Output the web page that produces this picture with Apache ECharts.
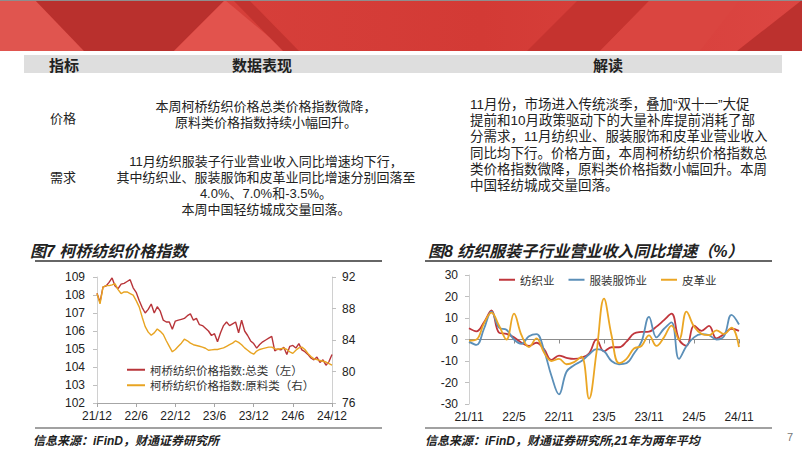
<!DOCTYPE html>
<html>
<head>
<meta charset="utf-8">
<script src="https://cdn.jsdelivr.net/npm/echarts@6/dist/echarts.min.js"></script>
<style>
  html, body { margin: 0; padding: 0; background: #fff; }
  #main { width: 802px; height: 451px; }
</style>
</head>
<body>
<div id="main"></div>
<script>
// 图7 柯桥纺织价格指数（双周取点）
var priceTicks = ['21/12', '22/6', '22/12', '23/6', '23/12', '24/6', '24/12'];
var totalIdx = [
  108.1, 107.6, 108.45, 108.5, 108.7, 108.95, 108.5, 108.35, 108.6, 108.65,
  108.75, 108.85, 108.4, 108.15, 107.7, 107.3, 107.0, 107.2, 107.5, 107.0,
  107.35, 107.1, 106.6, 106.5, 106.5, 106.1, 106.55, 106.6, 106.65, 106.7,
  106.85, 106.95, 106.6, 106.7, 106.35, 106.3, 106.15, 106.0, 105.75, 105.85,
  105.4, 105.9, 106.3, 106.5, 106.3, 106.4, 106.5, 105.9, 106.6, 106.0,
  105.75, 105.45, 105.3, 105.05, 105.25, 105.4, 105.5, 105.6, 105.7, 104.9,
  105.0, 104.95, 105.1, 104.7, 105.15, 105.2, 105.05, 105.3, 104.95, 104.85,
  104.7, 104.5, 104.4, 104.55, 104.25, 104.4, 104.1, 104.3, 104.7
];
var rawIdx = [
  89.9, 88.6, 90.7, 90.9, 90.9, 91.0, 91.15, 90.4, 89.9, 90.1,
  90.1, 89.9, 89.7, 89.0, 88.2, 86.9, 85.7, 85.0, 84.6, 84.9,
  85.4, 85.1, 84.7, 83.9, 83.2, 82.5, 82.8, 83.2, 83.6, 84.1,
  83.9, 83.6, 83.4, 83.3, 83.2, 83.1, 82.95, 82.7, 82.75, 82.8,
  82.8, 82.9, 83.0, 83.2, 83.4, 83.6, 83.9, 83.7, 83.4, 83.0,
  82.7, 82.4, 82.2, 82.6, 82.8, 82.9, 83.0, 83.1, 83.1, 82.9,
  82.8, 82.9, 82.95, 82.8, 82.5, 82.3, 82.7, 83.0, 83.1, 82.8,
  82.3, 81.9, 81.6, 81.5, 81.4, 81.3, 81.2, 81.0, 80.8
];
// 双周日期（类目）
var priceDates = [];
for (var j = 0; j < totalIdx.length; j++) {
  var d = new Date(2021, 11, 3 + 14 * j);
  priceDates.push(d.getFullYear() + '-' + (d.getMonth() + 1) + '-' + d.getDate());
}

// 图8 纺织服装子行业营业收入同比增速（%）
var revMonths = [
  '21/11', '21/12', '22/1', '22/2', '22/3', '22/4', '22/5', '22/6', '22/7', '22/8', '22/9', '22/10',
  '22/11', '22/12', '23/1', '23/2', '23/3', '23/4', '23/5', '23/6', '23/7', '23/8', '23/9', '23/10',
  '23/11', '23/12', '24/1', '24/2', '24/3', '24/4', '24/5', '24/6', '24/7', '24/8', '24/9', '24/10',
  '24/11'
];
var textile = [5.2, 3.8, 8, 13.5, 3.2, 2.6, 1, -1.5, -3, -1.5, -4.5, -9.5, -7.5, -8.5, -9, -8.5, -6.5, 0, -5.5, -3.6, -3.6, -1, 2.8, 3.5, 3.7, 6, 9, 12, 0, -3, 6.5, 4, 6.3, 0.5, 2.5, 5, 4.0];
var apparel = [-1, -2.5, 5, 13, 5.5, 4.5, 0, -2, 1.5, 2.5, -5, -17, -25.5, -15, -12, -10, -7, -4.5, -5.5, -10, -11.5, -11, -6.5, -1, 10.5, 1, 5, 8, -9, -3, 1, 2.5, 2, 0, 1.5, 11.5, 7.0];
var leather = [-0.5, 0, 7.5, 12.5, 6.5, 0, 12, 2, -3.5, 0.5, -6, -10, -9, -11.5, -10.5, -8, -27.5, -6, 19, 2, -11, -9, -4.2, -3, 1.9, -3, 1, 6.5, 0, 13, 6, 2.6, 2, 4.2, 2.6, 5.5, -3.5];

var CJK = '"Noto Sans CJK SC"';
var MIX = '"Liberation Sans", "Noto Sans CJK SC"';

function txt(x, y, s, font, align, color) {
  return {
    type: 'text', silent: true,
    style: {
      text: s, x: x, y: y, font: font, fill: color || '#222',
      textAlign: align || 'left', textVerticalAlign: 'middle'
    }
  };
}
function poly(points, fill) {
  return { type: 'polygon', silent: true, shape: { points: points }, style: { fill: fill } };
}
function line(x1, y1, x2, y2, color, w) {
  return { type: 'line', silent: true, shape: { x1: x1, y1: y1, x2: x2, y2: y2 }, style: { stroke: color, lineWidth: w } };
}

var graphics = [
  // 顶部红色横幅
  { type: 'rect', silent: true, shape: { x: 0, y: 0, width: 802, height: 51 },
    style: { fill: new echarts.graphic.LinearGradient(0, 0, 1, 0, [
      { offset: 0, color: '#D9443F' }, { offset: 0.6, color: '#D33A35' }, { offset: 1, color: '#DC4642' }]) } },
  poly([[0, 0], [35, 0], [84, 51], [0, 51]], '#E0554F'),
  poly([[35, 0], [225, 0], [174, 51], [84, 51]], '#B9302D'),
  poly([[174, 51], [225, 0], [286, 51]], '#E2534D'),
  poly([[233, 0], [249, 0], [299, 51], [283, 51]], '#C2332F'),
  poly([[527, 51], [578, 0], [650, 0], [600, 51]], '#C5332F'),
  poly([[600, 51], [650, 0], [740, 0], [700, 51]], '#DA4540'),
  poly([[737, 51], [802, 0], [802, 51]], '#BC312E'),
  line(0, 0.5, 802, 0.5, '#8E8E8E', 1),

  // 表头
  { type: 'rect', silent: true, shape: { x: 24, y: 55, width: 758, height: 18 }, style: { fill: '#DEDEDE' } },
  txt(64, 64, '指标', 'bold 15px ' + CJK, 'center'),
  txt(262, 64, '数据表现', 'bold 15px ' + CJK, 'center'),
  txt(608, 64, '解读', 'bold 15px ' + CJK, 'center'),

  // 指标列
  txt(63, 117, '价格', '13px ' + CJK, 'center'),
  txt(63, 176, '需求', '13px ' + CJK, 'center'),

  // 数据表现列
  txt(266, 106, '本周柯桥纺织价格总类价格指数微降，', '13px ' + MIX, 'center'),
  txt(266, 122, '原料类价格指数持续小幅回升。', '13px ' + MIX, 'center'),
  txt(266, 161, '11月纺织服装子行业营业收入同比增速均下行，', '13px ' + MIX, 'center'),
  txt(266, 177, '其中纺织业、服装服饰和皮革业同比增速分别回落至', '13px ' + MIX, 'center'),
  txt(266, 193, '4.0%、7.0%和-3.5%。', '13px ' + MIX, 'center'),
  txt(266, 209, '本周中国轻纺城成交量回落。', '13px ' + MIX, 'center'),

  // 解读列
  txt(470, 104, '11月份，市场进入传统淡季，叠加“双十一”大促', '13.5px ' + MIX),
  txt(470, 120, '提前和10月政策驱动下的大量补库提前消耗了部', '13.5px ' + MIX),
  txt(470, 136, '分需求，11月纺织业、服装服饰和皮革业营业收入', '13.5px ' + MIX),
  txt(470, 153, '同比均下行。价格方面，本周柯桥纺织价格指数总', '13.5px ' + MIX),
  txt(470, 169, '类价格指数微降，原料类价格指数小幅回升。本周', '13.5px ' + MIX),
  txt(470, 185, '中国轻纺城成交量回落。', '13.5px ' + MIX),

  // 图标题与分隔线
  txt(30, 251, '图7 柯桥纺织价格指数', 'italic bold 16px ' + MIX),
  line(35, 261, 382, 261, '#333', 1.5),
  txt(428, 251, '图8 纺织服装子行业营业收入同比增速（%）', 'italic bold 16px ' + MIX),
  line(425, 261, 772, 261, '#333', 1.5),
  line(35, 428, 382, 428, '#444', 1.2),
  line(425, 428, 772, 428, '#444', 1.2),
  txt(33, 441, '信息来源：iFinD，财通证券研究所', 'italic bold 12px ' + MIX),
  txt(425, 441, '信息来源：iFinD，财通证券研究所,21年为两年平均', 'italic bold 12px ' + MIX),
  txt(790, 437, '7', '11px "Liberation Sans"', 'center', '#777')
];

var axisFont = { color: '#222', fontSize: 12, fontFamily: 'Liberation Sans' };
var lightAxis = { show: true, lineStyle: { color: '#D0D0D0' } };
var grayTick = { show: true, length: 4, lineStyle: { color: '#BFBFBF' } };

var chart = echarts.init(document.getElementById('main'), null, { renderer: 'svg' });
chart.setOption({
  animation: false,
  backgroundColor: '#fff',
  graphic: graphics,
  grid: [
    { left: 97, right: 470, top: 277, bottom: 48 },
    { left: 469, right: 63, top: 275, bottom: 47 }
  ],
  legend: [
    {
      data: ['柯桥纺织价格指数:总类（左）', '柯桥纺织价格指数:原料类（右）'],
      orient: 'vertical', left: 122, top: 359, itemGap: 4, itemWidth: 18, itemHeight: 2, icon: 'rect',
      textStyle: { color: '#333', fontSize: 11.5, fontFamily: CJK }
    },
    {
      data: ['纺织业', '服装服饰业', '皮革业'],
      orient: 'horizontal', left: 494, top: 269, itemGap: 14, itemWidth: 16, itemHeight: 2, icon: 'rect',
      textStyle: { color: '#333', fontSize: 11.5, fontFamily: CJK }
    }
  ],
  xAxis: [
    {
      gridIndex: 0, type: 'category', data: priceDates, boundaryGap: false,
      axisLine: { lineStyle: { color: '#A6A6A6' } },
      axisTick: { interval: 12, length: 4, lineStyle: { color: '#A6A6A6' } },
      axisLabel: Object.assign({ interval: 12, margin: 7, formatter: function (v, i) { return priceTicks[i / 13]; } }, axisFont),
      splitLine: { show: false }
    },
    {
      gridIndex: 1, type: 'category', data: revMonths, boundaryGap: false, position: 'bottom',
      axisLine: { show: false, onZero: false }, axisTick: { show: false },
      axisLabel: Object.assign({ interval: 5, margin: 7 }, axisFont),
      splitLine: { show: false }
    },
    {
      gridIndex: 1, type: 'category', data: revMonths, boundaryGap: false, position: 'bottom',
      axisLine: { onZero: true, lineStyle: { color: '#8C8C8C' } },
      axisTick: { interval: 5, length: 4, lineStyle: { color: '#8C8C8C' } },
      axisLabel: { show: false }, splitLine: { show: false }
    }
  ],
  yAxis: [
    {
      gridIndex: 0, type: 'value', position: 'left', min: 102, max: 109, interval: 1,
      axisLine: lightAxis, axisTick: grayTick, splitLine: { show: false },
      axisLabel: Object.assign({ margin: 12 }, axisFont)
    },
    {
      gridIndex: 0, type: 'value', position: 'right', min: 76, max: 92, interval: 4,
      axisLine: lightAxis, axisTick: grayTick, splitLine: { show: false },
      axisLabel: Object.assign({ margin: 10 }, axisFont)
    },
    {
      gridIndex: 1, type: 'value', position: 'left', min: -30, max: 30, interval: 10,
      axisLine: lightAxis, axisTick: grayTick, splitLine: { show: false },
      axisLabel: Object.assign({ margin: 11 }, axisFont)
    }
  ],
  series: [
    {
      name: '柯桥纺织价格指数:总类（左）', type: 'line', xAxisIndex: 0, yAxisIndex: 0,
      data: totalIdx, symbol: 'none', lineStyle: { color: '#B8353A', width: 1.4 }, itemStyle: { color: '#B8353A' }
    },
    {
      name: '柯桥纺织价格指数:原料类（右）', type: 'line', xAxisIndex: 0, yAxisIndex: 1,
      data: rawIdx, symbol: 'none', lineStyle: { color: '#E8A422', width: 1.4 }, itemStyle: { color: '#E8A422' }
    },
    {
      name: '纺织业', type: 'line', xAxisIndex: 1, yAxisIndex: 2, data: textile, smooth: 0.4,
      symbol: 'none', lineStyle: { color: '#C0363C', width: 1.8 }, itemStyle: { color: '#C0363C' }
    },
    {
      name: '服装服饰业', type: 'line', xAxisIndex: 1, yAxisIndex: 2, data: apparel, smooth: 0.4,
      symbol: 'none', lineStyle: { color: '#5B8FB8', width: 1.8 }, itemStyle: { color: '#5B8FB8' }
    },
    {
      name: '皮革业', type: 'line', xAxisIndex: 1, yAxisIndex: 2, data: leather, smooth: 0.4,
      symbol: 'none', lineStyle: { color: '#EBA624', width: 1.8 }, itemStyle: { color: '#EBA624' }
    }
  ]
});
</script>
</body>
</html>
